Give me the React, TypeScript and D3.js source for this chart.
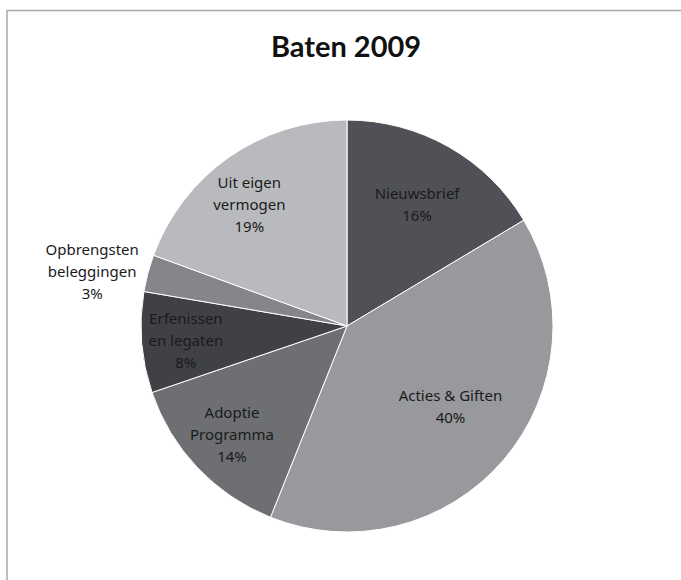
import React from "react";
import * as d3 from "d3";

const title = "Baten 2009";
const categories = ["Nieuwsbrief", "Acties & Giften", "Adoptie Programma", "Erfenissen en legaten", "Opbrengsten beleggingen", "Uit eigen vermogen"];
const labelLines = [["Nieuwsbrief"], ["Acties & Giften"], ["Adoptie", "Programma"], ["Erfenissen", "en legaten"], ["Opbrengsten", "beleggingen"], ["Uit eigen", "vermogen"]];
const values = [16.4, 39.6, 13.7, 7.9, 2.9, 19.4];
const colors = ["#505156", "#98999d", "#6e6f73", "#404145", "#85868a", "#b9babe"];

// layout (not data)
const W = 681, H = 580;
const cx = 347, cy = 326, R = 206;
const labelRadiusFactor = [0.69, 0.66, 0.77, 0.79, 1.27, 0.76];
const labelShift = [[0, 2], [0, -7], [0, 0], [1, 2], [-2, 13], [-8, 7]];

export default function App() {
  const total = d3.sum(values);
  const pie = d3.pie<number>().sort(null).value((d) => d)(values);
  const arc = d3.arc<d3.PieArcDatum<number>>().innerRadius(0).outerRadius(R);
  const lineH = 22;
  return (
    <div style={{ position: "fixed", left: 0, top: 0 }}>
      <svg width={W} height={H} style={{ display: "block", background: "#fff" }}>
        <line x1={7} y1={10.5} x2={W} y2={10.5} stroke="#a8a8a8" strokeWidth={1.5} />
        <line x1={7} y1={10} x2={7} y2={H} stroke="#a8a8a8" strokeWidth={1.5} />
        <text x={346} y={57} textAnchor="middle" fontFamily="Lato, 'Open Sans', sans-serif" fontWeight="bold" fontSize={29} fill="#111">{title}</text>
        <g transform={`translate(${cx},${cy})`}>
          {pie.map((p, i) => (
            <path key={categories[i]} d={arc(p) || ""} fill={colors[i]} stroke="#fff" strokeWidth={1} />
          ))}
          {pie.map((p, i) => {
            const lr = R * labelRadiusFactor[i];
            const a = (p.startAngle + p.endAngle) / 2;
            const x = lr * Math.sin(a) + labelShift[i][0];
            const y = -lr * Math.cos(a) + labelShift[i][1];
            const lines = [...labelLines[i], `${Math.round((values[i] / total) * 100)}%`];
            const y0 = y - ((lines.length - 1) * lineH) / 2;
            return (
              <text key={"l" + i} textAnchor="middle" fontFamily="'Noto Sans', sans-serif" fontSize={15} fill="#1a1a1a">
                {lines.map((t, j) => (
                  <tspan key={j} x={x} y={y0 + j * lineH} dy="0.35em">{t}</tspan>
                ))}
              </text>
            );
          })}
        </g>
      </svg>
    </div>
  );
}
